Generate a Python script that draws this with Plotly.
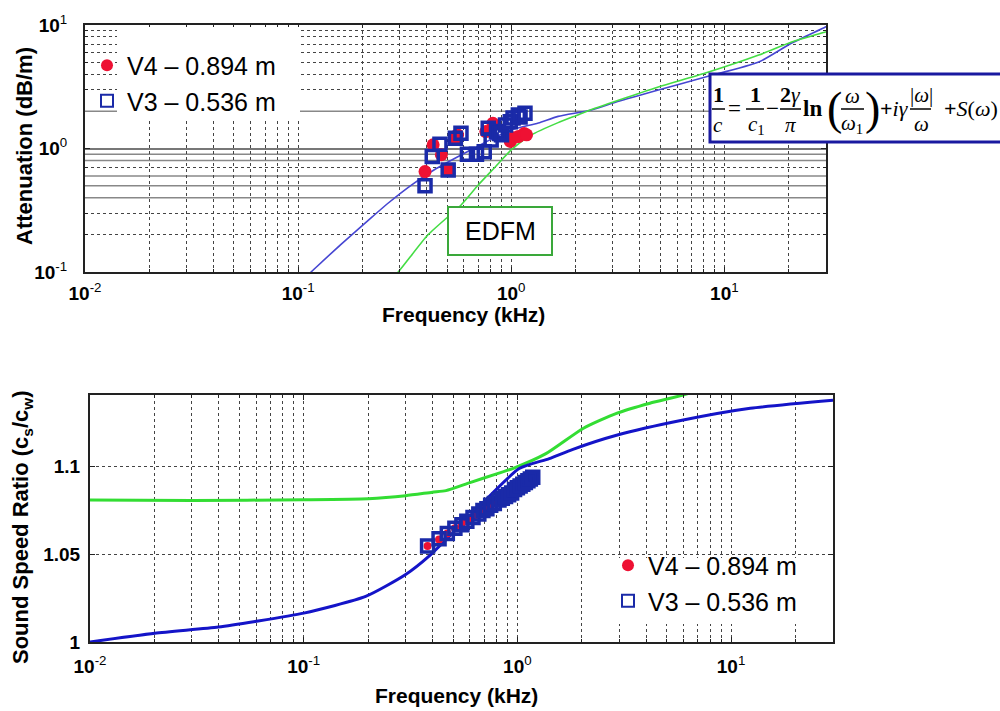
import plotly.graph_objects as go

# ---------------- data: top panel (attenuation) ----------------
atten_model_freq = [0.1, 0.115, 0.158, 0.224, 0.265, 0.340, 0.447, 0.631, 0.794, 1.0, 1.34, 1.66,
                    2.38, 3.16, 4.90, 8.15, 14.5, 20.7, 29.8, 32.0]
atten_model_db = [0.08, 0.1, 0.166, 0.282, 0.362, 0.506, 0.692, 0.955, 1.175, 1.413, 1.61, 1.82,
                  2.05, 2.40, 2.98, 3.79, 5.01, 7.14, 9.64, 10.3]
atten_edfm_freq = [0.25, 0.295, 0.407, 0.582, 0.700, 0.841, 1.0, 1.24, 1.66, 2.07, 2.38, 3.16,
                   4.90, 8.15, 14.5, 20.7, 29.8, 32.0]
atten_edfm_db = [0.075, 0.1, 0.2, 0.349, 0.506, 0.708, 0.973, 1.285, 1.62, 1.88, 2.07, 2.45,
                 3.15, 4.08, 5.71, 7.28, 8.77, 9.1]

v4_att_freq = [0.394, 0.43, 0.47, 0.506, 0.547, 0.56, 0.76, 0.82, 0.99, 1.02, 1.08, 1.15, 1.18]
v4_att_db = [0.65, 1.07, 0.89, 0.67, 1.21, 1.29, 1.37, 1.60, 1.14, 1.22, 1.25, 1.32, 1.29]
v3_att_freq = [0.394, 0.426, 0.463, 0.506, 0.547, 0.581, 0.623, 0.687, 0.747, 0.780, 0.805,
               0.853, 0.880, 0.900, 0.94, 0.99, 1.02, 1.08, 1.10, 1.16]
v3_att_db = [0.50, 0.86, 1.08, 0.67, 1.21, 1.33, 0.90, 0.90, 0.94, 1.46, 1.17, 1.37, 1.32,
             1.29, 1.55, 1.65, 1.77, 1.87, 1.80, 1.93]

# ---------------- data: bottom panel (sound speed ratio) ----------------
speed_model_freq = [0.01, 0.0201, 0.0399, 0.0593, 0.1, 0.195, 0.300, 0.386, 0.6, 1.02,
                    1.41, 1.82, 2.91, 5.97, 12.3, 30.0]
speed_model_ratio = [1.000, 1.005, 1.0085, 1.0117, 1.0165, 1.026, 1.0385, 1.049, 1.072,
                     1.099, 1.1047, 1.110, 1.118, 1.1267, 1.1334, 1.138]
speed_edfm_freq = [0.01, 0.03, 0.1, 0.2, 0.3, 0.4, 0.463, 0.6, 0.8, 0.95, 1.36, 2.03, 2.91,
                   4.17, 5.97, 8.0]
speed_edfm_ratio = [1.0810, 1.0808, 1.0812, 1.0818, 1.0835, 1.0855, 1.0864, 1.091, 1.096,
                    1.099, 1.1075, 1.1219, 1.1305, 1.1363, 1.141, 1.146]

v4_spd_freq = [0.38, 0.43, 0.47, 0.51, 0.55, 0.59, 0.63, 0.67, 0.71, 0.75, 0.79, 0.83, 0.87,
               0.91, 0.95, 0.99, 1.03, 1.07, 1.11, 1.15]
v4_spd_ratio = [1.0548, 1.0585, 1.062, 1.065, 1.0675, 1.070, 1.072, 1.074, 1.076, 1.078, 1.080,
                1.0815, 1.083, 1.0845, 1.086, 1.087, 1.089, 1.090, 1.0915, 1.093]
v3_spd_freq = [0.38, 0.43, 0.47, 0.51, 0.55, 0.58, 0.62, 0.66, 0.69, 0.72, 0.75, 0.78, 0.82,
               0.85, 0.88, 0.91, 0.94, 0.97, 1.00, 1.03, 1.06, 1.09, 1.12, 1.15, 1.18]
v3_spd_ratio = [1.0548, 1.059, 1.062, 1.065, 1.067, 1.069, 1.071, 1.073, 1.075, 1.076, 1.078,
                1.079, 1.081, 1.082, 1.083, 1.084, 1.085, 1.087, 1.088, 1.089, 1.090, 1.091,
                1.092, 1.093, 1.094]

x_tick_vals = [0.01, 0.1, 1, 10]
x_tick_text = ["<b>10</b><sup>-2</sup>", "<b>10</b><sup>-1</sup>", "<b>10</b><sup>0</sup>", "<b>10</b><sup>1</sup>"]
y1_tick_vals = [0.1, 1, 10]
y1_tick_text = ["<b>10</b><sup>-1</sup>", "<b>10</b><sup>0</sup>", "<b>10</b><sup>1</sup>"]
y2_tick_vals = [1, 1.05, 1.1]
y2_tick_text = ["<b>1</b>", "<b>1.05</b>", "<b>1.1</b>"]
legend_names = ["V4 \u2013 0.894 m", "V3 \u2013 0.536 m"]

# ---------------- layout helpers ----------------
W, H = 1000, 711
def X(px):
    return px / W
def Y(py):
    return 1 - py / H

SANS = "Liberation Sans, Arial, sans-serif"
SERIF = "Liberation Serif, DejaVu Serif, serif"
RED = "#ee1133"
SQ_BLUE = "#1a2aa8"

minor_x = [k * 10.0 ** e for e in range(-2, 2) for k in range(2, 10) if k * 10.0 ** e <= 30]

fig = go.Figure()

# top panel curves
fig.add_trace(go.Scatter(x=atten_model_freq, y=atten_model_db, mode="lines",
                         line=dict(color="#4646d2", width=1.6, shape="spline", smoothing=0.6),
                         showlegend=False, xaxis="x", yaxis="y"))
fig.add_trace(go.Scatter(x=atten_edfm_freq, y=atten_edfm_db, mode="lines",
                         line=dict(color="#44dd44", width=1.6, shape="spline", smoothing=0.6),
                         showlegend=False, xaxis="x", yaxis="y"))
fig.add_trace(go.Scatter(x=v4_att_freq, y=v4_att_db, mode="markers", name=legend_names[0],
                         marker=dict(symbol="circle", size=13, color=RED),
                         legend="legend", legendgroup="a1", xaxis="x", yaxis="y"))
fig.add_trace(go.Scatter(x=v3_att_freq, y=v3_att_db, mode="markers", name=legend_names[1],
                         marker=dict(symbol="square-open", size=12, color=SQ_BLUE,
                                     line=dict(width=3.5, color=SQ_BLUE)),
                         legend="legend", legendgroup="a2", xaxis="x", yaxis="y"))

# bottom panel curves
fig.add_trace(go.Scatter(x=speed_edfm_freq, y=speed_edfm_ratio, mode="lines",
                         line=dict(color="#33dd33", width=3, shape="spline", smoothing=0.6),
                         showlegend=False, xaxis="x2", yaxis="y2"))
fig.add_trace(go.Scatter(x=speed_model_freq, y=speed_model_ratio, mode="lines",
                         line=dict(color="#1414c8", width=3, shape="spline", smoothing=0.6),
                         showlegend=False, xaxis="x2", yaxis="y2"))
fig.add_trace(go.Scatter(x=v4_spd_freq, y=v4_spd_ratio, mode="markers", name=legend_names[0],
                         marker=dict(symbol="circle", size=8, color=RED),
                         legend="legend2", legendgroup="b1", xaxis="x2", yaxis="y2"))
fig.add_trace(go.Scatter(x=v3_spd_freq, y=v3_spd_ratio, mode="markers", name=legend_names[1],
                         marker=dict(symbol="square-open", size=12, color=SQ_BLUE,
                                     line=dict(width=3.5, color=SQ_BLUE)),
                         legend="legend2", legendgroup="b2", xaxis="x2", yaxis="y2"))

tickfont = dict(family=SANS, size=19, color="black")
common_x = dict(type="log", range=[-2, 1.477], tickmode="array", tickvals=x_tick_vals,
                ticktext=x_tick_text, tickfont=tickfont, showgrid=True, gridcolor="#444",
                griddash="dot", gridwidth=1, showline=True, linecolor="#222", linewidth=2,
                mirror="ticks", ticks="inside", ticklen=5, tickcolor="#222", zeroline=False,
                ticklabelstandoff=6, automargin=False,
                minor=dict(tickmode="array", tickvals=minor_x, showgrid=True, gridcolor="#444",
                           griddash="dot", gridwidth=1, ticks="inside", ticklen=3,
                           tickcolor="#222"))

legend_font = dict(family=SANS, size=25, color="black")
fig.update_layout(
    width=W, height=H, margin=dict(l=0, r=0, t=0, b=0, autoexpand=False),
    paper_bgcolor="white", plot_bgcolor="white",
    xaxis=dict(common_x, domain=[X(85), X(826)], anchor="y", ticklabelstandoff=3),
    yaxis=dict(type="log", range=[-1, 1], domain=[Y(272), Y(25)], anchor="x",
               tickmode="array", tickvals=y1_tick_vals, ticktext=y1_tick_text, tickfont=tickfont,
               showgrid=True, gridcolor="#777", griddash="solid", gridwidth=1.5,
               showline=True, linecolor="#222", linewidth=2, mirror="ticks", ticks="inside",
               ticklen=5, tickcolor="#222", zeroline=False, ticklabelstandoff=12,
               automargin=False,
               minor=dict(tickmode="array", tickvals=[0.2, 0.3, 0.7, 3, 4, 5, 6, 7, 8, 9],
                          showgrid=True, gridcolor="#444", griddash="dot", gridwidth=1,
                          ticks="inside", ticklen=3, tickcolor="#222")),
    xaxis2=dict(common_x, domain=[X(90), X(833)], anchor="y2"),
    yaxis2=dict(range=[1, 1.141], domain=[Y(642), Y(395)], anchor="x2",
                tickmode="array", tickvals=y2_tick_vals, ticktext=y2_tick_text, tickfont=tickfont,
                showgrid=True, gridcolor="#444", griddash="dot", gridwidth=1,
                showline=True, linecolor="#222", linewidth=2, mirror="ticks", ticks="inside",
                ticklen=5, tickcolor="#222", zeroline=False, ticklabelstandoff=4,
                automargin=False),
    legend=dict(x=X(87), y=Y(83), xanchor="left", yanchor="middle", itemsizing="constant",
                bgcolor="rgba(0,0,0,0)", borderwidth=0, tracegroupgap=0, font=legend_font),
    legend2=dict(x=X(608), y=Y(583), xanchor="left", yanchor="middle", itemsizing="constant",
                 bgcolor="rgba(0,0,0,0)", borderwidth=0, tracegroupgap=0, font=legend_font),
)

shapes = []
# solid horizontal grid lines of the upper panel
for v in [0.4, 0.5, 0.6, 0.8, 0.9, 2.0]:
    shapes.append(dict(type="line", xref="x domain", x0=0, x1=1, yref="y", y0=v, y1=v,
                       line=dict(color="#888", width=1.5), layer="below"))
# white areas behind the legends
shapes.append(dict(type="rect", xref="paper", yref="paper", x0=X(117), x1=X(300),
                   y0=Y(121), y1=Y(27), fillcolor="white", line=dict(width=0), layer="above"))
shapes.append(dict(type="rect", xref="paper", yref="paper", x0=X(615), x1=X(831),
                   y0=Y(624), y1=Y(558), fillcolor="white", line=dict(width=0), layer="above"))
# EDFM box
shapes.append(dict(type="rect", xref="paper", yref="paper", x0=X(448), x1=X(552),
                   y0=Y(255), y1=Y(207), fillcolor="white",
                   line=dict(color="#3aa83a", width=2), layer="above"))
# equation box
shapes.append(dict(type="rect", xref="paper", yref="paper", x0=X(710), x1=X(1010),
                   y0=Y(142), y1=Y(74), fillcolor="white",
                   line=dict(color="#1a1aa0", width=3), layer="above"))
# fraction bars
for a, b in [(712, 725), (746, 764), (780, 801), (841, 864), (910, 931)]:
    shapes.append(dict(type="line", xref="paper", yref="paper", x0=X(a), x1=X(b),
                       y0=Y(109), y1=Y(109), line=dict(color="black", width=1.5),
                       layer="above"))
fig.update_layout(shapes=shapes)

ann = []
def txt(px, py, s, size=20, family=SERIF, angle=0, color="black"):
    ann.append(dict(x=X(px), y=Y(py), xref="paper", yref="paper", text=s, showarrow=False,
                    xanchor="center", yanchor="middle", textangle=angle,
                    font=dict(family=family, size=size, color=color)))

# axis titles
txt(463, 315, "<b>Frequency (kHz)</b>", 21, SANS)
txt(456, 695, "<b>Frequency (kHz)</b>", 21, SANS)
txt(25, 146, "<b>Attenuation (dB/m)</b>", 22, SANS, -90)
txt(22, 527, "<b>Sound Speed Ratio (c<sub>s</sub>/c<sub>w</sub>)</b>", 22, SANS, -90)
# EDFM label
txt(500, 231, "EDFM", 25, SANS)
# equation
txt(718, 95, "<b>1</b>", 22)
txt(718, 125, "<i>c</i>", 21)
txt(734, 109, "=", 23)
txt(755, 95, "<b>1</b>", 22)
txt(756, 125, "<i>c</i><sub>1</sub>", 21)
txt(772, 108, "\u2212", 23)
txt(790, 95, "<b>2</b><i>\u03b3</i>", 22)
txt(790, 125, "<i>\u03c0</i>", 21)
txt(812, 109, "<b>ln</b>", 23)
txt(834, 108, "(", 46)
txt(852, 96, "<i>\u03c9</i>", 21)
txt(852, 124, "<i>\u03c9</i><sub>1</sub>", 21)
txt(872, 108, ")", 46)
txt(894, 109, "<b>+</b><i>i\u03b3</i>", 22)
txt(921, 95, "|<i>\u03c9</i>|", 21)
txt(921, 124, "<i>\u03c9</i>", 21)
txt(971, 109, "<b>+</b><i>S</i>(<i>\u03c9</i>)", 22)
fig.update_layout(annotations=ann)

fig.write_html("out.html")
